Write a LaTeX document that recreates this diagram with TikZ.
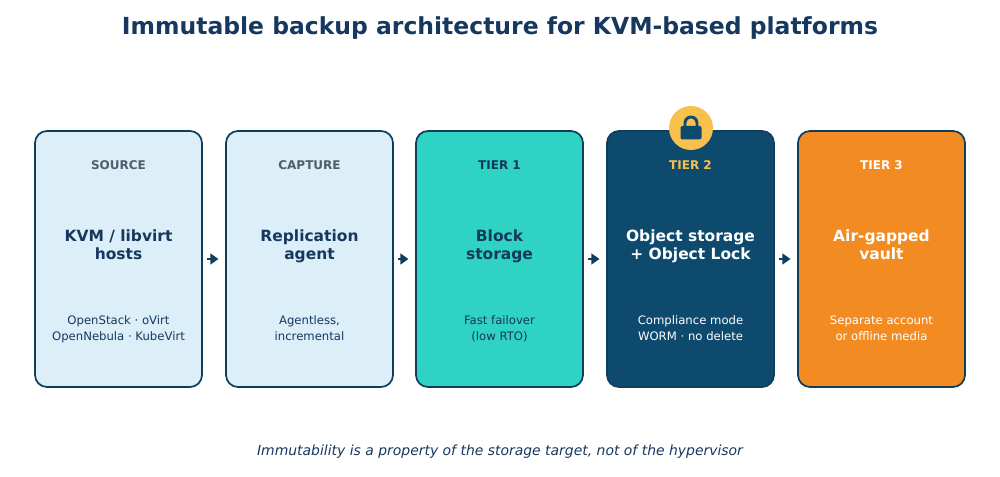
\documentclass[tikz,border=0pt]{standalone}
\usepackage{fontspec}
\setmainfont{DejaVu Sans}
\usetikzlibrary{arrows.meta}
\definecolor{navy}{HTML}{16375E}
\definecolor{edge}{HTML}{0F3D5C}
\definecolor{lightb}{HTML}{DCEEF8}
\definecolor{teal}{HTML}{2ED3C3}
\definecolor{dark}{HTML}{0E4A6E}
\definecolor{orng}{HTML}{F28C22}
\definecolor{gold}{HTML}{F8C04C}
\definecolor{grey}{HTML}{4F5F6C}
\begin{document}
\begin{tikzpicture}[x=0.75pt,y=-0.75pt,
  box/.style={draw=edge,line width=1.3pt,rounded corners=9pt,minimum width=125.25pt,minimum height=192pt,inner sep=0pt},
  tag/.style={font=\bfseries\fontsize{9}{11}\selectfont,align=center},
  ttl/.style={font=\bfseries\fontsize{11.6}{14.2}\selectfont,align=center,anchor=base},
  dsc/.style={font=\fontsize{8.75}{12}\selectfont,align=center,anchor=base},
  arr/.style={-{Triangle[length=6pt,width=8pt]},line width=1.5pt,draw=edge}]
\useasboundingbox (0,0) rectangle (1000,477);
\node[font=\bfseries\fontsize{17.6}{20}\selectfont,text=navy] (title) at (500,28.5) {Immutable backup architecture for KVM-based platforms};
\node[box,fill=lightb] (b1) at (118.5,259) {};
\node[box,fill=lightb] (b2) at (309.5,259) {};
\node[box,fill=teal] (b3) at (499.5,259) {};
\node[box,fill=dark] (b4) at (690.5,259) {};
\node[box,fill=orng] (b5) at (881.5,259) {};
\node[tag,text=grey] (t1) at (118.5,165) {SOURCE};
\node[tag,text=grey] (t2) at (309.5,165) {CAPTURE};
\node[tag,text=navy] (t3) at (499.5,165) {TIER 1};
\node[tag,text=gold] (t4) at (690.5,165) {TIER 2};
\node[tag,text=white] (t5) at (881.5,165) {TIER 3};
\node[ttl,text=navy] (m1) at (118.5,260) {KVM / libvirt\\hosts};
\node[ttl,text=navy] (m2) at (309.5,260) {Replication\\agent};
\node[ttl,text=navy] (m3) at (499.5,260) {Block\\storage};
\node[ttl,text=white] (m4) at (690.5,260) {Object storage\\+ Object Lock};
\node[ttl,text=white] (m5) at (881.5,260) {Air-gapped\\vault};
\node[dsc,text=navy] (d1) at (118.5,340.5) {OpenStack · oVirt\\OpenNebula · KubeVirt};
\node[dsc,text=navy] (d2) at (309.5,340.5) {Agentless,\\incremental};
\node[dsc,text=navy] (d3) at (499.5,340.5) {Fast failover\\(low RTO)};
\node[dsc,text=white] (d4) at (690.5,340.5) {Compliance mode\\WORM · no delete};
\node[dsc,text=white] (d5) at (881.5,340.5) {Separate account\\or offline media};
\draw[arr] (b1.east) ++(4,0) -- ([xshift=-5]b2.west);
\draw[arr] (b2.east) ++(4,0) -- ([xshift=-5]b3.west);
\draw[arr] (b3.east) ++(4,0) -- ([xshift=-5]b4.west);
\draw[arr] (b4.east) ++(4,0) -- ([xshift=-5]b5.west);
\node[circle,fill=gold,minimum size=33pt,inner sep=0pt] (lock) at (691,128) {};
\draw[dark,line width=2.2pt] (685,127) -- (685,123) arc[start angle=180,end angle=360,radius=6] -- (697,127);
\fill[dark,rounded corners=1.5pt] (680.5,126) rectangle (701.5,139.5);
\node[font=\itshape\fontsize{10.45}{13}\selectfont,text=navy] (foot) at (500,452) {Immutability is a property of the storage target, not of the hypervisor};
\end{tikzpicture}
\end{document}
